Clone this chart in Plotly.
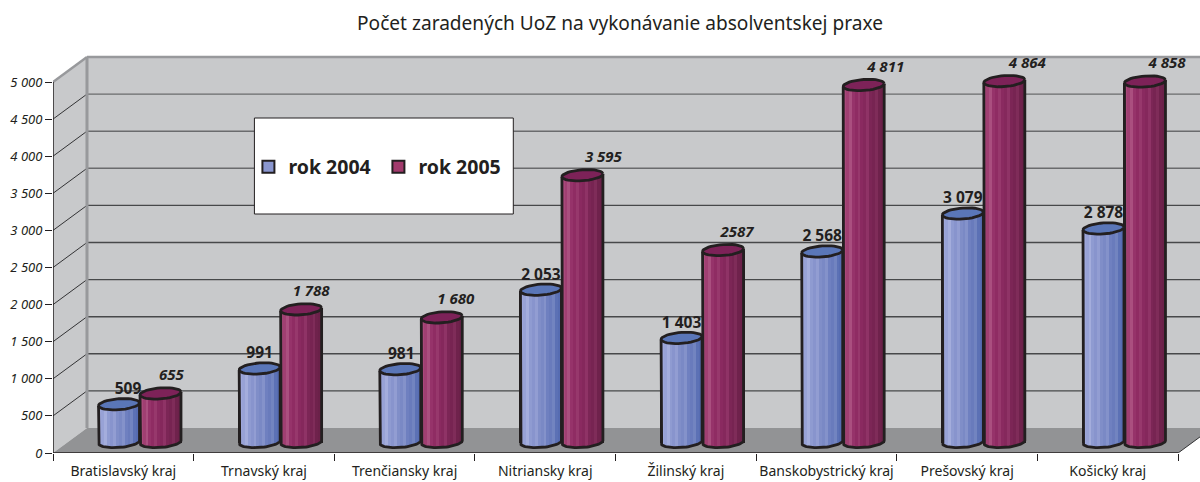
import math
import plotly.graph_objects as go

# ---------- data ----------
categories = ["Bratislavský kraj", "Trnavský kraj", "Trenčiansky kraj", "Nitriansky kraj",
              "Žilinský kraj", "Banskobystrický kraj", "Prešovský kraj", "Košický kraj"]
rok_2004 = [509, 991, 981, 2053, 1403, 2568, 3079, 2878]
rok_2005 = [655, 1788, 1680, 3595, 2587, 4811, 4864, 4858]
labels_2004 = ["509", "991", "981", "2 053", "1 403", "2 568", "3 079", "2 878"]
labels_2005 = ["655", "1 788", "1 680", "3 595", "2587", "4 811", "4 864", "4 858"]
y_ticks = [0, 500, 1000, 1500, 2000, 2500, 3000, 3500, 4000, 4500, 5000]
y_tick_labels = ["0", "500", "1 000", "1 500", "2 000", "2 500", "3 000", "3 500", "4 000", "4 500", "5 000"]

# ---------- style ----------
FONT = "Noto Sans"
INK = "#231f20"
STRIPS_2004 = ["#9ea7da", "#98a2d6", "#a4addc", "#8f9bd1", "#8894cd", "#929dd2", "#808ec8",
               "#7a89c5", "#8492ca", "#6f80c0", "#697bbc", "#7284c0", "#5c71b5", "#566cb2"]
STRIPS_2005 = ["#a8497a", "#a03f72", "#aa4f7f", "#96336a", "#8f2c63", "#97386c", "#8a2a60",
               "#85285c", "#8f3366", "#7c2656", "#772452", "#7f2c59", "#6f224c", "#6b2149"]
# horizontal placement of the value labels relative to their cylinder, px
NUDGE_2004 = [9, 0, 1, 0, 0, 0, 0, 0]
NUDGE_2005 = [11, 10, 14, 21, 14, 22, 23, 22]

# pixel scale of the axes
W, H = 1200, 482
M_L, M_R, M_T, M_B = 52.5, 0, 50, 29
CAT_PX = 140.7
VAL_PX = 37.1 / 500
PX = 1 / CAT_PX            # one pixel in x units
PY = 1 / VAL_PX            # one pixel in y units
X_MAX = (W - M_L - M_R) * PX
Y_MAX = (H - M_T - M_B) * PY
N = len(categories)

DX, DY = 34 * PX, 25 * PY  # wall depth
BASE = 11 * PY             # the cylinders stand part way into the floor
R_X = 20.5                 # cylinder radius, px
R_Y = 5.5
TILT = 0.07
CENTER_2004 = 0.5 - 4.3 * PX
CENTER_2005 = 0.5 + 37.2 * PX

fig = go.Figure()


def ellipse(xc, yc, t0=0.0, t1=2 * math.pi, steps=40):
    xs, ys = [], []
    for i in range(steps + 1):
        t = t0 + (t1 - t0) * i / steps
        dx = R_X * math.cos(t)
        dy = R_Y * math.sin(t) + TILT * dx
        xs.append(xc + dx * PX)
        ys.append(yc + dy * PY)
    return xs, ys


def cylinders(name, values, center, strips, top_color, mid_color):
    xc = [i + center for i in range(N)]
    # whole body: carries the value and the legend entry
    fig.add_trace(go.Bar(
        name=name, x=xc, y=[v - 2 * PY for v in values], base=BASE, width=2 * R_X * PX,
        marker=dict(color=mid_color, line=dict(color=INK, width=2)),
        showlegend=True, hoverinfo="skip"))
    # shading strips, following the lower curve of the cylinder
    n = len(strips)
    sw = 2 * R_X / n
    for k, col in enumerate(strips):
        off = -R_X + (k + 0.5) * sw
        arc = R_Y * math.sqrt(max(0, 1 - (off / R_X) ** 2)) - TILT * off
        fig.add_trace(go.Bar(
            x=[c + off * PX for c in xc],
            y=[v + arc * PY - 2 * PY for v in values],
            base=BASE - arc * PY, width=(sw + 0.6) * PX,
            marker=dict(color=col, line=dict(width=0)),
            showlegend=False, hoverinfo="skip"))
    # outline: sides and lower arc
    ox, oy = [], []
    for c, v in zip(xc, values):
        top = v + BASE
        ax, ay = ellipse(c, BASE, math.pi, 2 * math.pi)
        ox += [c - R_X * PX] + ax + [c + R_X * PX, None]
        oy += [top - TILT * R_X * PY] + ay + [top + TILT * R_X * PY, None]
    fig.add_trace(go.Scatter(x=ox, y=oy, mode="lines", line=dict(color=INK, width=2.8),
                             showlegend=False, hoverinfo="skip"))
    # top cap
    tx, ty = [], []
    for c, v in zip(xc, values):
        ax, ay = ellipse(c, v + BASE)
        tx += ax + [None]
        ty += ay + [None]
    fig.add_trace(go.Scatter(x=tx, y=ty, mode="lines", fill="toself", fillcolor=top_color,
                             line=dict(color=INK, width=2.8), showlegend=False, hoverinfo="skip"))


cylinders("rok 2004", rok_2004, CENTER_2004, STRIPS_2004, "#5a76b8", "#8a96cf")
cylinders("rok 2005", rok_2005, CENTER_2005, STRIPS_2005, "#7d2258", "#a23a6c")

# value labels
fig.add_trace(go.Scatter(
    x=[i + CENTER_2004 + d * PX for i, d in enumerate(NUDGE_2004)],
    y=[v + BASE + 14 * PY for v in rok_2004],
    text=labels_2004, mode="text", textposition="middle center",
    textfont=dict(family=FONT, size=15.5, color=INK, weight="bold"),
    showlegend=False, hoverinfo="skip"))
fig.add_trace(go.Scatter(
    x=[i + CENTER_2005 + d * PX for i, d in enumerate(NUDGE_2005)],
    y=[v + BASE + 17 * PY for v in rok_2005],
    text=labels_2005, mode="text", textposition="middle center",
    textfont=dict(family=FONT, size=15, color=INK, weight="bold", style="italic"),
    showlegend=False, hoverinfo="skip"))

# ---------- 3D frame, drawn on the axes' own scales ----------
shapes = []
WALL = "#c8c9cb"
shapes.append(dict(type="rect", xref="x", yref="y", x0=DX, x1=X_MAX, y0=DY, y1=5000 + DY,
                   fillcolor=WALL, line_width=0, layer="below"))
shapes.append(dict(type="path", xref="x", yref="y",
                   path=f"M0,0 L0,5000 L{DX},{5000 + DY} L{DX},{DY} Z",
                   fillcolor=WALL, line_width=0, layer="below"))
shapes.append(dict(type="path", xref="x", yref="y",
                   path=f"M0,0 L{DX},{DY} L{N + DX},{DY} L{N},0 Z",
                   fillcolor="#929395", line_width=0, layer="below"))
for v in y_ticks[1:-1]:
    col = "#6a6b6d" if v >= 3500 else "#47484a"
    shapes.append(dict(type="line", xref="x", yref="y", x0=DX, x1=X_MAX, y0=v + DY, y1=v + DY,
                       line=dict(color=col, width=1.4), layer="below"))
    shapes.append(dict(type="line", xref="x", yref="y", x0=0, x1=DX, y0=v, y1=v + DY,
                       line=dict(color="#333335", width=1), layer="below"))
EDGE = dict(color="#98999c", width=2.5)
shapes.append(dict(type="line", xref="x", yref="y", x0=DX, x1=X_MAX, y0=5000 + DY, y1=5000 + DY,
                   line=EDGE, layer="below"))
shapes.append(dict(type="line", xref="x", yref="y", x0=0, x1=DX, y0=5000, y1=5000 + DY,
                   line=EDGE, layer="below"))
shapes.append(dict(type="line", xref="x", yref="y", x0=DX, x1=DX, y0=DY, y1=5000 + DY,
                   line=dict(color="#98999c", width=3), layer="below"))
shapes.append(dict(type="line", xref="x", yref="y", x0=N, x1=N + DX, y0=0, y1=DY,
                   line=dict(color="#333335", width=1), layer="below"))
# axis lines
shapes.append(dict(type="line", xref="x", yref="y", x0=0, x1=0, y0=0, y1=5000,
                   line=dict(color=INK, width=1.5)))
shapes.append(dict(type="line", xref="x", yref="y", x0=0, x1=N, y0=0, y1=0,
                   line=dict(color=INK, width=1.5)))
# legend box
plot_w, plot_h = W - M_L - M_R, H - M_T - M_B
shapes.append(dict(type="rect", xref="x", yref="y",
                   x0=(254 - M_L) * PX, x1=(513 - M_L) * PX,
                   y0=(H - M_B - 214) * PY, y1=(H - M_B - 118) * PY,
                   fillcolor="white", line=dict(color=INK, width=1), layer="below"))

fig.update_layout(
    width=W, height=H, autosize=False,
    margin=dict(l=M_L, r=M_R, t=M_T, b=M_B, pad=0, autoexpand=False),
    paper_bgcolor="white", plot_bgcolor="rgba(0,0,0,0)",
    barmode="overlay", bargap=0,
    font=dict(family=FONT, color=INK),
    title=dict(text="Počet zaradených UoZ na vykonávanie absolventskej praxe",
               font=dict(family=FONT, size=19.1, color=INK),
               xref="container", yref="container", x=620 / W, xanchor="center",
               y=1 - 23 / H, yanchor="middle"),
    shapes=shapes,
    legend=dict(orientation="h", xref="paper", yref="paper",
                x=(248 - M_L) / plot_w, xanchor="left",
                y=(H - M_B - 167) / plot_h, yanchor="middle",
                bgcolor="rgba(0,0,0,0)", borderwidth=0, itemclick=False, itemdoubleclick=False,
                entrywidth=85, entrywidthmode="pixels",
                font=dict(family=FONT, size=19.5, color=INK, weight="bold")),
    xaxis=dict(range=[0, X_MAX], showgrid=False, zeroline=False, showline=False, automargin=False,
               tickmode="array", tickvals=[i + 0.5 for i in range(N)], ticktext=categories,
               ticks="", tickangle=0, ticklabelstandoff=8,
               tickfont=dict(family=FONT, size=14, color=INK),
               minor=dict(tickmode="array", tickvals=list(range(N + 1)), ticks="outside",
                          ticklen=7, tickwidth=1, tickcolor=INK, showgrid=False)),
    yaxis=dict(range=[0, Y_MAX], showgrid=False, zeroline=False, showline=False, automargin=False,
               tickmode="array", tickvals=y_ticks, ticktext=y_tick_labels,
               ticks="outside", ticklen=7, tickwidth=1, tickcolor=INK,
               tickfont=dict(family=FONT, size=13, color=INK, style="italic")),
)

fig.write_html("out.html", config=dict(displayModeBar=False),
               post_script="document.body.style.margin='0';")
